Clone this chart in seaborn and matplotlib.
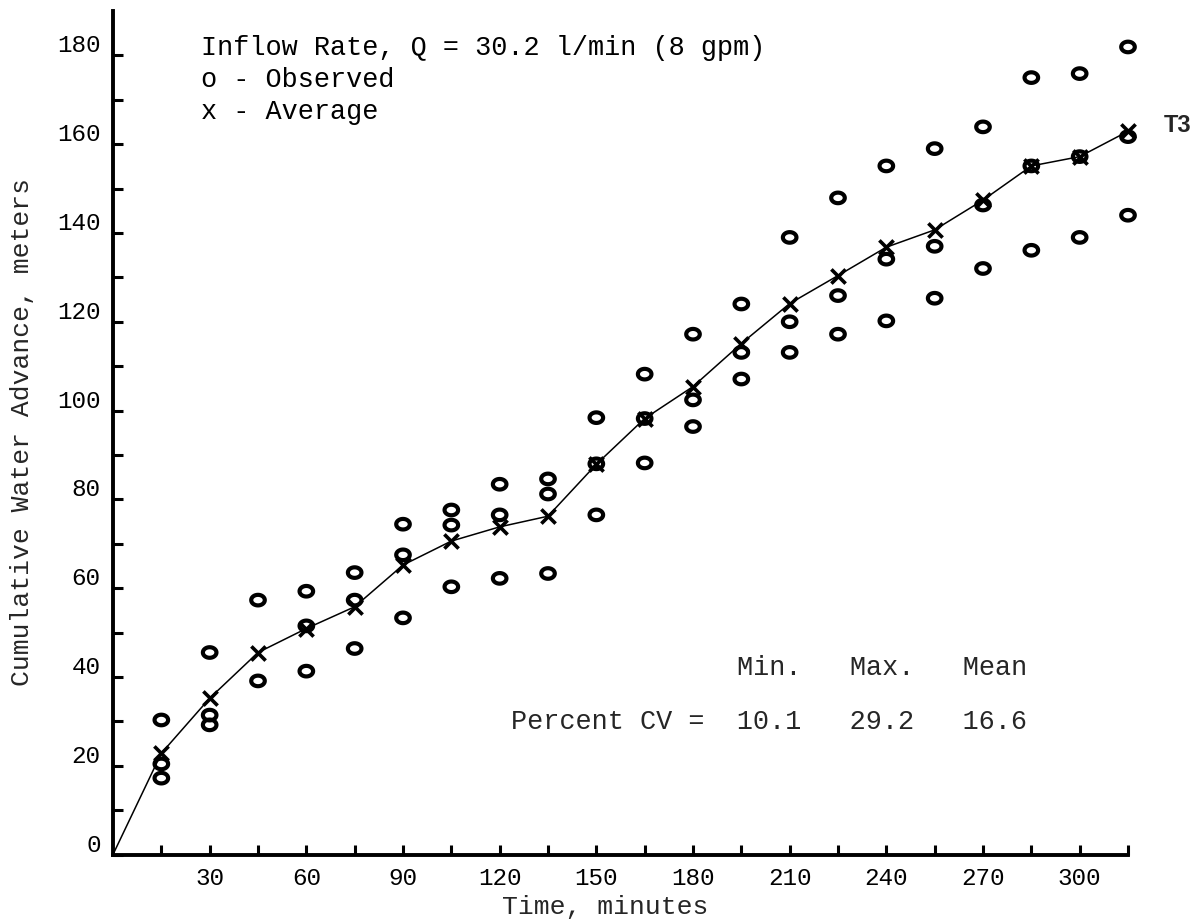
import numpy as np
import pandas as pd
import matplotlib
matplotlib.use("Agg")
import matplotlib.pyplot as plt
from matplotlib.path import Path
import matplotlib.transforms as mtransforms
import seaborn as sns

# ---------------- data ----------------
time_min = [15, 30, 45, 60, 75, 90, 105, 120, 135, 150, 165, 180,
            195, 210, 225, 240, 255, 270, 285, 300, 315]
obs_high = [30.3, 45.5, 57.3, 59.3, 63.5, 74.4, 77.6, 83.4, 84.6, 98.4, 108.2,
            117.2, 124.0, 139.0, 147.9, 155.1, 159.0, 163.9, 175.0, 175.9, 181.9]
obs_mid = [20.4, 31.4, np.nan, 51.5, 57.3, 67.5, 74.2, 76.5, 81.2, 88.0, 98.2,
           102.4, 113.1, 120.0, 125.9, 134.1, 137.0, 146.3, 155.1, 157.2, 161.7]
obs_low = [17.2, 29.2, 39.1, 41.3, 46.4, 53.3, 60.3, 62.2, 63.3, 76.5, 88.2,
           96.4, 107.1, 113.1, 117.2, 120.2, 125.3, 132.0, 136.1, 139.0, 144.0]
average = [22.8, 35.2, 45.5, 50.9, 55.8, 65.2, 70.6, 73.8, 76.2, 87.9, 98.2,
           105.4, 115.1, 124.1, 130.4, 136.8, 140.7, 147.4, 155.1, 157.2, 162.9]
x_tick_labels = ["30", "60", "90", "120", "150", "180", "210", "240", "270", "300"]
y_tick_labels = ["0", "20", "40", "60", "80", "100", "120", "140", "160", "180"]
header_lines = ["Inflow Rate, Q = 30.2 l/min (8 gpm)", "o - Observed", "x - Average"]
cv_names = ["Min.", "Max.", "Mean"]
cv_values = [10.1, 29.2, 16.6]
series_tag = "T3"

# ---------------- frames ----------------
obs_df = pd.DataFrame({
    "time": time_min * 3,
    "advance": obs_high + obs_mid + obs_low,
}).dropna()
avg_df = pd.DataFrame({"time": time_min, "advance": average})
line_df = pd.DataFrame({"time": [0] + time_min, "advance": [0.0] + average})

# ---------------- style ----------------
sns.set_theme(style="white")
plt.rcParams["font.family"] = ["Liberation Mono", "DejaVu Sans Mono"]

W, H = 1198, 923
fig = plt.figure(figsize=(W / 100, H / 100), dpi=100)
ax = fig.add_axes([113 / W, 1 - 854.5 / H, (1128 - 113) / W, (854.5 - 11) / H])

# line through the averages (starting at origin)
sns.lineplot(data=line_df, x="time", y="advance", ax=ax, color="black",
             linewidth=1.1, estimator=None, sort=False)

# observed: typed "o" rings (slightly flattened)
theta = np.linspace(0, 2 * np.pi, 80)
ring = Path(np.column_stack([np.cos(theta), 0.78 * np.sin(theta)]), closed=True)
sns.scatterplot(data=obs_df, x="time", y="advance", ax=ax, marker=ring,
                s=95, linewidth=3.0, color="black")
obs_coll = ax.collections[-1]
obs_coll.set_facecolor("none")
obs_coll.set_edgecolor("black")
obs_coll.set_clip_on(False)

# averages: "x"
sns.scatterplot(data=avg_df, x="time", y="advance", ax=ax, marker="x",
                s=105, linewidth=2.6, color="black")
avg_coll = ax.collections[-1]
avg_coll.set_edgecolor("black")
avg_coll.set_facecolor("black")
avg_coll.set_clip_on(False)

# ---------------- axes ----------------
ax.set_xlim(0, 315)
ax.set_ylim(0, 190)
xt = np.arange(15, 316, 15)
ax.set_xticks(xt)
xl = []
it = iter(x_tick_labels)
for t in xt:
    xl.append(next(it) if (t % 30 == 0 and t <= 300) else "")
ax.set_xticklabels(xl)
yt = np.arange(0, 181, 10)
ax.set_yticks(yt)
yl = []
iy = iter(y_tick_labels)
for v in yt:
    yl.append(next(iy) if v % 20 == 0 else "")
ax.set_yticklabels(yl)

for s in ["top", "right"]:
    ax.spines[s].set_visible(False)
for s in ["left", "bottom"]:
    ax.spines[s].set_linewidth(2.8)
    ax.spines[s].set_color("black")

ax.tick_params(axis="both", which="major", direction="in", length=7.5, width=2.2,
               color="black", labelsize=17.5, labelcolor="black",
               bottom=True, left=True, top=False, right=False)
ax.tick_params(axis="x", pad=9)
ax.tick_params(axis="y", pad=9)
offset = mtransforms.ScaledTranslation(0, 0.12, fig.dpi_scale_trans)
for lab in ax.get_yticklabels():
    lab.set_transform(lab.get_transform() + offset)

ax.set_xlabel("Time, minutes", fontsize=19)
ax.set_ylabel("Cumulative Water Advance, meters", fontsize=19)
ax.xaxis.set_label_coords(605 / W, 1 - 907 / H, transform=fig.transFigure)
ax.yaxis.set_label_coords(22 / W, 1 - 432 / H, transform=fig.transFigure)
ax.xaxis.label.set_va("center")
ax.yaxis.label.set_va("center")

# ---------------- texts ----------------
for i, line in enumerate(header_lines):
    fig.text(201 / W, 1 - (48 + 32 * i) / H, line, fontsize=19.4,
             ha="left", va="center", color="black")

row1 = "   ".join(cv_names)
row2 = "Percent CV =  " + "   ".join(f"{v:.1f}" for v in cv_values)
fig.text(737 / W, 1 - 668 / H, row1, fontsize=19.4, ha="left", va="center")
fig.text(511 / W, 1 - 722 / H, row2, fontsize=19.4, ha="left", va="center")

ax.annotate(series_tag, xy=(time_min[-1], average[-1]), xytext=(36, 4),
            textcoords="offset points", ha="center", va="center",
            fontsize=17, fontweight="bold", family=["Liberation Sans", "DejaVu Sans"],
            annotation_clip=False)

fig.savefig("out.png", dpi=100, facecolor="white")
